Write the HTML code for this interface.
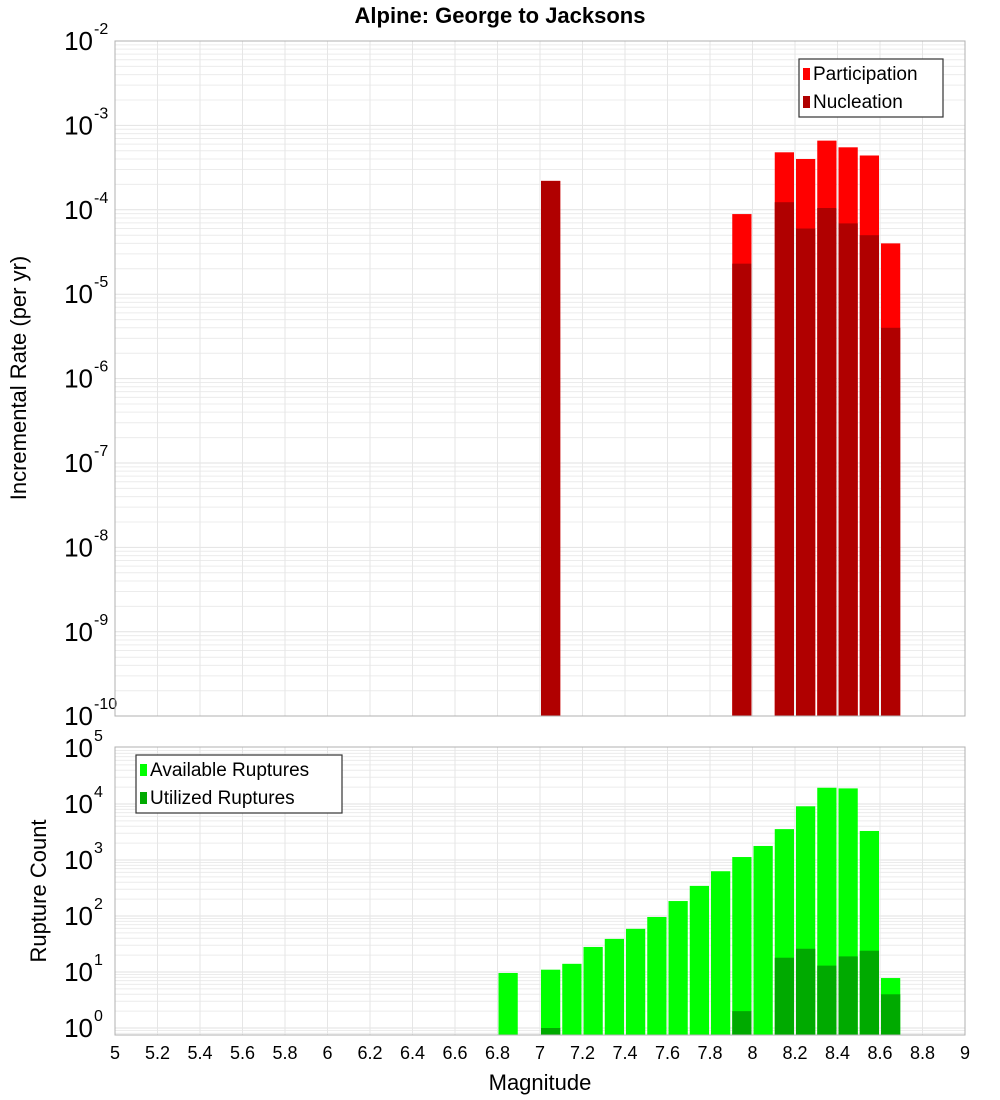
<!DOCTYPE html>
<html><head><meta charset="utf-8"><style>
html,body{margin:0;padding:0;background:#fff;}
svg{display:block;font-family:"Liberation Sans","DejaVu Sans",sans-serif;}
</style></head><body>
<svg id="chart" width="1000" height="1100" viewBox="0 0 1000 1100" xmlns="http://www.w3.org/2000/svg">
<text x="500" y="23" text-anchor="middle" font-size="22" font-weight="bold">Alpine: George to Jacksons</text>
<g id="top"></g>
<g id="bot"></g>
<text transform="translate(26,378) rotate(-90)" text-anchor="middle" font-size="22">Incremental Rate (per yr)</text>
<text transform="translate(46,891) rotate(-90)" text-anchor="middle" font-size="22">Rupture Count</text>
<text x="540" y="1090" text-anchor="middle" font-size="22">Magnitude</text>
</svg>
<script>
const mags = [6.85,7.05,7.15,7.25,7.35,7.45,7.55,7.65,7.75,7.85,7.95,8.05,8.15,8.25,8.35,8.45,8.55,8.65];
const participation = [0,2.2e-4,0,0,0,0,0,0,0,0,8.9e-5,0,4.8e-4,4.0e-4,6.6e-4,5.5e-4,4.4e-4,4.0e-5];
const nucleation = [0,2.2e-4,0,0,0,0,0,0,0,0,2.3e-5,0,1.23e-4,6.0e-5,1.05e-4,6.9e-5,5.0e-5,4.0e-6];
const available = [9.6,11,14,28,39,59,96,185,345,630,1130,1780,3560,9100,19500,19000,3300,7.8];
const utilized = [0,1,0,0,0,0,0,0,0,0,2,0,18,26,13,19,24,4];
const xTicks = [5,5.2,5.4,5.6,5.8,6,6.2,6.4,6.6,6.8,7,7.2,7.4,7.6,7.8,8,8.2,8.4,8.6,8.8,9];
const topExps = [-10,-9,-8,-7,-6,-5,-4,-3,-2];
const botExps = [0,1,2,3,4,5];

const NS="http://www.w3.org/2000/svg";
const X0=115,X1=965;
const xs=m=>X0+(m-5)/4*(X1-X0);
const yTop=v=>41-84.4*(Math.log10(v)+2);
const yBot=v=>1028-56*Math.log10(v);
function mk(parent,tag,attrs){const e=document.createElementNS(NS,tag);for(const k in attrs)e.setAttribute(k,attrs[k]);parent.appendChild(e);return e;}

function panel(g,y0,y1,yf,exps,minLog,maxLog,name){
  mk(g,'rect',{x:X0,y:y0,width:X1-X0,height:y1-y0,fill:'#fff'});
  for(let d=Math.floor(minLog);d<maxLog;d++){
    for(let k=1;k<10;k++){const y=yf(k*Math.pow(10,d));if(y>=y0&&y<=y1){const l=mk(g,'line',{x1:X0,x2:X1,y1:y,y2:y,stroke:k==1?'#e2e2e2':'#ececec','stroke-width':1});

}}
  }
  xTicks.forEach(t=>{const x=xs(t);const l=mk(g,'line',{x1:x,x2:x,y1:y0,y2:y1,stroke:'#e6e6e6','stroke-width':1});

});
  exps.forEach(e=>{const y=yf(Math.pow(10,e));const t=mk(g,'text',{x:93,y:y+9,'text-anchor':'end','font-size':26});


t.textContent='10';const s=mk(g,'text',{x:94,y:y-7,'font-size':16});


s.textContent=String(e);});
}
function frame(g,y0,y1,name){const r=mk(g,'rect',{x:X0,y:y0,width:X1-X0,height:y1-y0,fill:'none',stroke:'#b0b0b0','stroke-width':1});

}
function bar(g,m,v,yf,yb,color,name){if(!v)return;const xa=xs(m-0.05)+1,xb=xs(m+0.05)-1;const y=Math.max(yf(v),0);const r=mk(g,'rect',{x:xa,y:y,width:xb-xa,height:yb-y,fill:color});

}

const gt=document.getElementById('top');
panel(gt,41,716,yTop,topExps,-10,-2,'top');
mags.forEach((m,i)=>bar(gt,m,participation[i],yTop,716,'#ff0000','participation-bar'));
mags.forEach((m,i)=>bar(gt,m,nucleation[i],yTop,716,'#b00000','nucleation-bar'));
frame(gt,41,716,'top');

const gb=document.getElementById('bot');
panel(gb,747,1035,yBot,botExps,-1,5,'bottom');
mags.forEach((m,i)=>bar(gb,m,available[i],yBot,1035,'#00ff00','available-bar'));
mags.forEach((m,i)=>bar(gb,m,utilized[i],yBot,1035,'#00aa00','utilized-bar'));
frame(gb,747,1035,'bottom');

xTicks.forEach(t=>{const tx=mk(gb,'text',{x:xs(t),y:1059,'text-anchor':'middle','font-size':18});


tx.textContent=String(t);});

function legend(g,x,y,w,items,name){
  const r=mk(g,'rect',{x:x,y:y,width:w,height:58,fill:'#fff',stroke:'#333','stroke-width':1.2});
  
  
  items.forEach((it,i)=>{const sw=mk(g,'rect',{x:x+4,y:y+9+i*28,width:7,height:12,fill:it[1]});


const t=mk(g,'text',{x:x+14,y:y+21+i*28,'font-size':19});


t.textContent=it[0];});
}
legend(gt,799,59,144,[['Participation','#ff0000'],['Nucleation','#b00000']],'top-legend');
legend(gb,136,755,206,[['Available Ruptures','#00ff00'],['Utilized Ruptures','#00aa00']],'bottom-legend');
</script>
</body></html>
